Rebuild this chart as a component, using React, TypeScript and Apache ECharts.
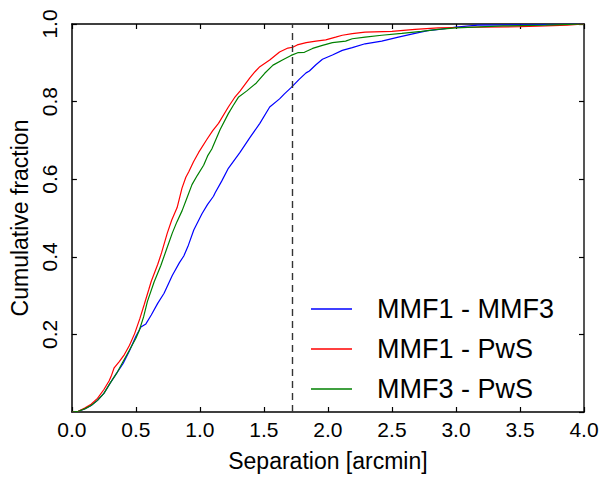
import React, { useEffect, useRef } from "react";
import * as echarts from "echarts";

// Cumulative distributions of positional separation between catalogue pairs
const mmf1Mmf3X = [0, 0.05, 0.1, 0.15, 0.2, 0.25, 0.3, 0.35, 0.4, 0.45, 0.5, 0.539, 0.578, 0.62, 0.67, 0.72, 0.784, 0.84, 0.874, 0.91, 0.952, 1.016, 1.06, 1.106, 1.119, 1.17, 1.222, 1.313, 1.39, 1.468, 1.545, 1.622, 1.66, 1.712, 1.777, 1.829, 1.855, 1.906, 1.957, 2.035, 2.112, 2.19, 2.29, 2.42, 2.55, 2.68, 2.78, 2.886, 3.0, 3.17, 3.5, 4.0];
const mmf1Mmf3Y = [0, 0.002, 0.008, 0.017, 0.03, 0.048, 0.075, 0.1, 0.125, 0.158, 0.195, 0.219, 0.227, 0.25, 0.28, 0.306, 0.352, 0.385, 0.402, 0.43, 0.469, 0.511, 0.535, 0.556, 0.565, 0.595, 0.628, 0.669, 0.707, 0.744, 0.786, 0.807, 0.82, 0.836, 0.858, 0.874, 0.879, 0.895, 0.909, 0.92, 0.932, 0.939, 0.949, 0.956, 0.966, 0.976, 0.983, 0.987, 0.992, 0.997, 0.998, 1.0];

const mmf1PwsX = [0, 0.05, 0.1, 0.15, 0.2, 0.25, 0.29, 0.31, 0.33, 0.37, 0.41, 0.45, 0.49, 0.53, 0.565, 0.6, 0.62, 0.67, 0.7, 0.745, 0.78, 0.822, 0.86, 0.89, 0.913, 0.95, 0.99, 1.055, 1.1, 1.145, 1.222, 1.27, 1.313, 1.39, 1.43, 1.468, 1.545, 1.622, 1.687, 1.725, 1.76, 1.83, 1.906, 1.983, 2.06, 2.112, 2.19, 2.29, 2.5, 2.68, 2.86, 3.0, 3.2, 3.5, 3.7, 3.87, 4.0];
const mmf1PwsY = [0, 0.002, 0.01, 0.02, 0.035, 0.058, 0.08, 0.095, 0.114, 0.13, 0.148, 0.172, 0.202, 0.24, 0.277, 0.315, 0.337, 0.38, 0.41, 0.461, 0.495, 0.527, 0.577, 0.605, 0.619, 0.645, 0.669, 0.703, 0.725, 0.744, 0.786, 0.81, 0.827, 0.861, 0.877, 0.89, 0.907, 0.928, 0.938, 0.94, 0.946, 0.952, 0.956, 0.959, 0.966, 0.971, 0.975, 0.979, 0.981, 0.986, 0.99, 0.991, 0.992, 0.993, 0.995, 0.997, 1.0];

const mmf3PwsX = [0, 0.05, 0.1, 0.15, 0.2, 0.25, 0.3, 0.35, 0.4, 0.45, 0.5, 0.526, 0.56, 0.59, 0.642, 0.694, 0.74, 0.784, 0.82, 0.861, 0.9, 0.938, 0.98, 1.029, 1.06, 1.093, 1.158, 1.222, 1.26, 1.3, 1.364, 1.441, 1.506, 1.571, 1.648, 1.712, 1.764, 1.816, 1.88, 1.957, 2.035, 2.138, 2.19, 2.29, 2.42, 2.577, 2.73, 2.86, 3.0, 3.37, 3.7, 4.0];
const mmf3PwsY = [0, 0.002, 0.008, 0.017, 0.03, 0.048, 0.075, 0.1, 0.13, 0.16, 0.19, 0.21, 0.245, 0.285, 0.335, 0.377, 0.42, 0.461, 0.49, 0.519, 0.553, 0.586, 0.61, 0.636, 0.66, 0.678, 0.728, 0.769, 0.79, 0.811, 0.827, 0.848, 0.873, 0.894, 0.908, 0.919, 0.926, 0.927, 0.937, 0.945, 0.952, 0.956, 0.962, 0.966, 0.971, 0.976, 0.981, 0.986, 0.99, 0.995, 0.997, 1.0];

const seriesNames = ["MMF1 - MMF3", "MMF1 - PwS", "MMF3 - PwS"];
const seriesColors = ["#0000ff", "#ff0000", "#008000"];
const cutoffSeparation = 1.72;

const pairs = (xs: number[], ys: number[]) => xs.map((x, i) => [x, ys[i]]);

const FONT = "Liberation Sans, Helvetica, Arial, sans-serif";

export default function App() {
  const ref = useRef<HTMLDivElement>(null);

  useEffect(() => {
    if (!ref.current) return;
    const chart = echarts.init(ref.current, undefined, { renderer: "svg" });

    const curves = [
      pairs(mmf1Mmf3X, mmf1Mmf3Y),
      pairs(mmf1PwsX, mmf1PwsY),
      pairs(mmf3PwsX, mmf3PwsY),
    ];

    const tick = { show: true, inside: true, length: 5, lineStyle: { color: "#000", width: 1.2 } };
    const line = { show: true, onZero: false, lineStyle: { color: "#000", width: 1.5 } };

    chart.setOption({
      animation: false,
      backgroundColor: "#fff",
      textStyle: { fontFamily: FONT },
      grid: { left: 67, right: 32, top: 24, bottom: 53, containLabel: false },
      legend: {
        orient: "vertical",
        left: 306,
        top: 289,
        itemWidth: 41,
        itemHeight: 1.5,
        itemGap: 10,
        icon: "rect",
        data: seriesNames,
        textStyle: { fontSize: 27, color: "#000", lineHeight: 30, fontFamily: FONT, padding: [0, 0, 0, 20] },
      },
      xAxis: [
        {
          type: "value",
          min: 0,
          max: 4,
          interval: 0.5,
          position: "bottom",
          axisLine: line,
          axisTick: tick,
          splitLine: { show: false },
          axisLabel: { fontSize: 21, color: "#000", margin: 7, formatter: (v: number) => v.toFixed(1) },
          name: "Separation [arcmin]",
          nameLocation: "middle",
          nameGap: 37,
          nameTextStyle: { fontSize: 23, color: "#000" },
        },
        {
          type: "value",
          min: 0,
          max: 4,
          interval: 0.5,
          position: "top",
          axisLine: line,
          axisTick: tick,
          splitLine: { show: false },
          axisLabel: { show: false },
        },
      ],
      yAxis: [
        {
          type: "value",
          min: 0,
          max: 1,
          interval: 0.2,
          position: "left",
          axisLine: line,
          axisTick: tick,
          splitLine: { show: false },
          axisLabel: {
            fontSize: 21,
            color: "#000",
            rotate: 90,
            margin: 12,
            showMinLabel: false,
            formatter: (v: number) => (v === 0 ? "" : v.toFixed(1)),
          },
          name: "Cumulative fraction",
          nameLocation: "middle",
          nameGap: 37,
          nameRotate: 90,
          nameTextStyle: { fontSize: 23, color: "#000" },
        },
        {
          type: "value",
          min: 0,
          max: 1,
          interval: 0.2,
          position: "right",
          axisLine: { show: true, onZero: false, lineStyle: { color: "#555", width: 2 } },
          axisTick: tick,
          splitLine: { show: false },
          axisLabel: { show: false },
        },
      ],
      series: curves.map((data, i) => ({
        name: seriesNames[i],
        type: "line",
        data,
        symbol: "none",
        smooth: false,
        color: seriesColors[i],
        lineStyle: { color: seriesColors[i], width: 1.2 },
        ...(i === 0
          ? {
              markLine: {
                silent: true,
                symbol: "none",
                label: { show: false },
                lineStyle: { color: "#333", width: 1.4, type: [7, 5] },
                data: [{ xAxis: cutoffSeparation }],
              },
            }
          : {}),
      })),
    });

    return () => chart.dispose();
  }, []);

  return <div ref={ref} style={{ position: "fixed", left: 0, top: 0, width: 616, height: 477 }} />;
}
